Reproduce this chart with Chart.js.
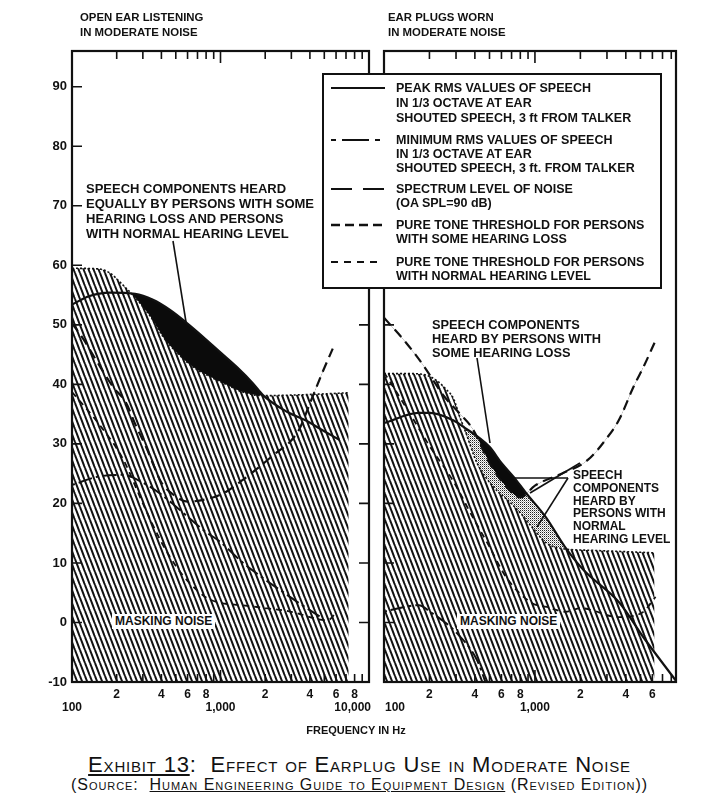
<!DOCTYPE html>
<html>
<head>
<meta charset="utf-8">
<script src="https://cdn.jsdelivr.net/npm/chart.js@4.4.0/dist/chart.umd.min.js"></script>
<style>
  body { margin: 0; background: #fff; }
  #page { position: relative; width: 719px; height: 800px; overflow: hidden; background: #fff; }
  canvas { position: absolute; top: 0; z-index: 0; }
  .t { position: absolute; white-space: nowrap; font: bold 12px/14px "Liberation Sans", Arial, sans-serif; color: #111; z-index: 3; }
  .lg { font-size: 12.5px; }
  .mask { background: #fff; padding: 0 3px; line-height: 15px; }
  #legendBox { position: absolute; left: 322px; top: 73px; width: 336px; height: 212px; border: 2px solid #111; background: #fff; z-index: 1; }
  #overlay { position: absolute; left: 0; top: 0; z-index: 2; }
  .cap { position: absolute; left: 0; width: 719px; text-align: center; font-family: "Liberation Sans", Arial, sans-serif; font-variant: small-caps; color: #111; letter-spacing: 0.8px; }
</style>
</head>
<body>
<div id="page">
  <canvas id="openEar" width="380" height="720" style="left:0"></canvas>
  <canvas id="plugged" width="349" height="720" style="left:370px"></canvas>

  <div id="legendBox"></div>
  <svg id="overlay" width="719" height="800">
    <g stroke="#111" fill="none">
      <line x1="331" y1="88" x2="385" y2="88" stroke-width="2"/>
      <line x1="331" y1="140" x2="381" y2="140" stroke-width="2" stroke-dasharray="5 6 27 6 5 100"/>
      <line x1="331" y1="189" x2="385" y2="189" stroke-width="2" stroke-dasharray="21 11"/>
      <line x1="331" y1="225" x2="383" y2="225" stroke-width="2.6" stroke-dasharray="9 5"/>
      <line x1="331" y1="262" x2="383" y2="262" stroke-width="2" stroke-dasharray="7 6"/>
      <line x1="173" y1="241" x2="186" y2="322" stroke-width="1.6"/>
      <line x1="477" y1="358" x2="490" y2="443" stroke-width="1.6"/>
      <line x1="568" y1="478" x2="513" y2="478" stroke-width="1.6"/>
      <line x1="580" y1="463" x2="530" y2="493" stroke-width="1.6"/>
      <line x1="568" y1="478" x2="537" y2="527" stroke-width="1.6"/>
    </g>
  </svg>

  <div class="t" style="left:80px;top:10px;line-height:15px;font-size:11.4px">OPEN EAR LISTENING<br>IN MODERATE NOISE</div>
  <div class="t" style="left:388px;top:10px;line-height:15px;font-size:11.4px">EAR PLUGS WORN<br>IN MODERATE NOISE</div>

  <div class="t lg" style="left:396px;top:81px">PEAK RMS VALUES OF SPEECH</div>
  <div class="t lg" style="left:396px;top:96px">IN 1/3 OCTAVE AT EAR</div>
  <div class="t lg" style="left:396px;top:111px">SHOUTED SPEECH, 3 ft FROM TALKER</div>
  <div class="t lg" style="left:396px;top:133px">MINIMUM RMS VALUES OF SPEECH</div>
  <div class="t lg" style="left:396px;top:147px">IN 1/3 OCTAVE AT EAR</div>
  <div class="t lg" style="left:396px;top:161px">SHOUTED SPEECH, 3 ft. FROM TALKER</div>
  <div class="t lg" style="left:396px;top:182px">SPECTRUM LEVEL OF NOISE</div>
  <div class="t lg" style="left:396px;top:196px">(OA SPL=90 dB)</div>
  <div class="t lg" style="left:396px;top:218px">PURE TONE THRESHOLD FOR PERSONS</div>
  <div class="t lg" style="left:396px;top:232px">WITH SOME HEARING LOSS</div>
  <div class="t lg" style="left:396px;top:255px">PURE TONE THRESHOLD FOR PERSONS</div>
  <div class="t lg" style="left:396px;top:269px">WITH NORMAL HEARING LEVEL</div>

  <div class="t" style="left:86px;top:181px;line-height:15px;font-size:13px">SPEECH COMPONENTS HEARD<br>EQUALLY BY PERSONS WITH SOME<br>HEARING LOSS AND PERSONS<br>WITH NORMAL HEARING LEVEL</div>
  <div class="t" style="left:432px;top:318px;font-size:12.8px">SPEECH COMPONENTS<br>HEARD BY PERSONS WITH<br>SOME HEARING LOSS</div>
  <div class="t" style="left:573px;top:469px;line-height:12.8px;font-size:12px">SPEECH<br>COMPONENTS<br>HEARD BY<br>PERSONS WITH<br>NORMAL<br>HEARING LEVEL</div>

  <div class="t mask" style="left:112px;top:614px">MASKING NOISE</div>
  <div class="t mask" style="left:457px;top:614px">MASKING NOISE</div>

  <div class="t" style="left:256px;width:200px;text-align:center;top:723px;font-size:11px">FREQUENCY IN Hz</div>
  <div class="cap" style="top:752px;font-size:22px"><u>Exhibit 13</u>:&nbsp; Effect of Earplug Use in Moderate Noise</div>
  <div class="cap" style="top:776px;font-size:16px;letter-spacing:0.95px">(Source:&nbsp; <u>Human Engineering Guide to Equipment Design</u> (Revised Edition))</div>
</div>

<script>
// axis ticks
const yTickValues = [-10, 0, 10, 20, 30, 40, 50, 60, 70, 80, 90];
const openTickHz = [100, 200, 300, 400, 500, 600, 700, 800, 900, 1000, 2000, 3000, 4000, 5000, 6000, 7000, 8000, 9000, 10000];
const plugTickHz = [100, 200, 300, 400, 500, 600, 700, 800, 900, 1000, 2000, 3000, 4000, 5000, 6000, 7000, 8000];
const digitHz = [200, 400, 600, 800, 2000, 4000, 6000, 8000];
const digitText = ['2', '4', '6', '8', '2', '4', '6', '8'];
const plugDigitHz = [200, 400, 600, 800, 2000, 4000, 6000];
const openDecadeHz = [100, 1000, 10000];
const openDecadeText = ['100', '1,000', '10,000'];
const plugDecadeHz = [100, 1000];
const plugDecadeText = ['100', '1,000'];

// open ear listening
const openPeakHz = [100, 130, 180, 266, 351, 457, 594, 762, 985, 1290, 1650, 1930, 2800, 3700, 5100, 6300];
const openPeakDb = [53.4, 54.8, 55.4, 55.2, 54.2, 52.5, 50.3, 48.0, 45.5, 42.9, 40.2, 38.2, 35.4, 34.0, 32.0, 30.7];
const openMinHz = [100, 150, 220, 300, 400, 500, 770, 1000, 1420, 2000, 2500, 3500, 4800];
const openMinDb = [23.1, 24.5, 24.8, 23.5, 21.5, 19.5, 15.5, 13.5, 10.0, 7.2, 5.5, 3.0, 0.8];
const openLossHz = [100, 120, 150, 190, 230, 270, 315, 360, 400, 480, 600, 860, 1100, 1420, 1800, 2370, 2900, 3400, 4000, 4800, 5700];
const openLossDb = [50.3, 47.5, 43.5, 39.5, 37.0, 33.0, 29.5, 26.0, 23.5, 21.5, 20.3, 20.9, 22.0, 24.0, 26.0, 28.5, 30.2, 32.5, 36.8, 41.7, 46.0];
const openNormalHz = [100, 150, 220, 300, 400, 500, 600, 800, 1000, 1400, 2000, 3000, 4000, 5000, 5500, 6000];
const openNormalDb = [38.7, 33.5, 27.5, 20.0, 13.5, 9.5, 7.0, 4.2, 3.3, 2.9, 2.4, 1.8, 0.9, 0.4, 0.6, 1.8];
const openNoiseHz = [100, 150, 180, 220, 257, 301, 351, 410, 510, 654, 848, 1110, 1415, 1930, 3000, 5000, 7300];
const openNoiseDb = [59.5, 59.4, 58.7, 56.7, 55.0, 53.0, 50.8, 48.0, 45.3, 42.9, 41.3, 39.9, 38.7, 38.1, 38.2, 38.4, 38.6];

// ear plugs worn
const plugPeakHz = [100, 170, 202, 285, 334, 500, 600, 720, 870, 1180, 1580, 2100, 3630, 5200, 8600];
const plugPeakDb = [33.5, 35.2, 35.2, 34.0, 32.9, 29.5, 26.8, 24.5, 21.8, 17.7, 12.7, 8.8, 3.3, -2.4, -9.8];
const plugMinHz = [100, 137, 170, 202, 304, 413, 470];
const plugMinDb = [1.8, 2.6, 2.9, 1.8, -1.8, -6.3, -10.0];
const plugLossHz = [100, 140, 181, 250, 320, 387, 500, 645, 800, 1000, 1500, 2240, 3000, 3600, 4500, 5300, 6200];
const plugLossDb = [51.2, 47.0, 43.3, 38.0, 35.0, 32.5, 26.8, 22.8, 21.0, 23.0, 25.0, 27.3, 31.0, 34.0, 39.6, 43.2, 47.0];
const plugNormalHz = [100, 115, 154, 202, 285, 387, 500, 645, 950, 1200, 1600, 2000, 3600, 5100, 6300];
const plugNormalDb = [42.0, 39.6, 34.4, 29.5, 23.9, 17.7, 12.7, 7.6, 3.3, 2.6, 1.8, 2.4, 0.9, 1.6, 4.3];
const plugNoiseHz = [100, 150, 202, 260, 290, 318, 344, 413, 530, 690, 800, 950, 1180, 1450, 2500, 4000, 6200];
const plugNoiseDb = [41.8, 41.8, 41.3, 39.1, 37.5, 34.5, 32.3, 26.8, 22.8, 20.1, 18.4, 16.1, 13.4, 12.5, 12.1, 11.9, 11.7];

Chart.defaults.font.family = '"Liberation Sans", Arial, sans-serif';
Chart.defaults.color = '#111';

const pts = (hz, db) => hz.map((f, i) => ({ x: f, y: db[i] }));
const upTo = (list, maxHz) => list.filter(p => p.x <= maxHz);

function hatchPattern() {
    const c = document.createElement('canvas');
    c.width = 5; c.height = 13;
    const g = c.getContext('2d');
    g.fillStyle = '#fff';
    g.fillRect(0, 0, 5, 13);
    g.strokeStyle = '#111';
    g.lineWidth = 2;
    for (const dx of [-5, 0, 5]) {
        g.beginPath();
        g.moveTo(dx, 0);
        g.lineTo(dx + 5, 13);
        g.stroke();
    }
    return g.createPattern(c, 'repeat');
}

function dotPattern() {
    const c = document.createElement('canvas');
    c.width = 2; c.height = 2;
    const g = c.getContext('2d');
    g.fillStyle = '#fff';
    g.fillRect(0, 0, 2, 2);
    g.fillStyle = '#222';
    g.fillRect(0, 0, 1, 1);
    g.fillStyle = '#aaa';
    g.fillRect(1, 1, 1, 1);
    return g.createPattern(c, 'repeat');
}

// frame, inward ticks and decade labels
const framePlugin = {
    id: 'frame',
    afterDraw(chart, args, o) {
        const { ctx, chartArea: a } = chart;
        const x = chart.scales.x, y = chart.scales.y;
        ctx.save();
        ctx.strokeStyle = '#111';
        ctx.lineWidth = 1.6;
        ctx.beginPath();
        o.xTicks.forEach(v => {
            const px = x.getPixelForValue(v);
            const len = v === 1000 ? 12 : 8;
            ctx.moveTo(px, a.top); ctx.lineTo(px, a.top + len);
            ctx.moveTo(px, a.bottom); ctx.lineTo(px, a.bottom - len);
        });
        yTickValues.forEach(v => {
            const py = y.getPixelForValue(v);
            if (o.leftTicks) { ctx.moveTo(a.left, py); ctx.lineTo(a.left + 10, py); }
            if (o.rightTicks) { ctx.moveTo(a.right - 10, py); ctx.lineTo(a.right, py); }
        });
        ctx.stroke();
        ctx.lineWidth = 2.2;
        ctx.strokeRect(a.left, a.top, a.right - a.left, a.bottom - a.top);
        ctx.fillStyle = '#111';
        ctx.font = 'bold 12px "Liberation Sans", Arial, sans-serif';
        ctx.textBaseline = 'middle';
        o.decades.forEach((v, i) => {
            const al = o.decadeAlign[i];
            const px = x.getPixelForValue(v) + (al === 'right' ? 2 : al === 'left' ? 1 : 0);
            ctx.textAlign = al;
            ctx.fillText(o.decadeText[i], px, a.bottom + 26);
        });
        ctx.restore();
    }
};

function makePanel(id, s) {
    const peak = pts(s.peakHz, s.peakDb);
    const noise = pts(s.noiseHz, s.noiseDb);
    const loss = pts(s.lossHz, s.lossDb);
    const noiseEnd = s.noiseHz[s.noiseHz.length - 1];
    const lossEnd = s.lossHz[s.lossHz.length - 1];
    const clear = 'rgba(0,0,0,0)';
    return new Chart(document.getElementById(id), {
        type: 'line',
        data: {
            datasets: [
                { data: peak, borderWidth: 2.2, order: 1 },
                { data: pts(s.minHz, s.minDb), borderWidth: 2, borderDash: [3, 4, 14, 4], order: 2 },
                { data: loss, borderWidth: 2.2, borderDash: [10, 6], order: 3 },
                { data: pts(s.normalHz, s.normalDb), borderWidth: 1.8, borderDash: [6, 5], order: 4 },
                { data: noise, borderWidth: 1.6, borderDash: [2, 2], fill: 'start', backgroundColor: hatchPattern(), order: 10 },
                { data: upTo(peak, noiseEnd), borderColor: clear, borderWidth: 1, fill: { target: 4, above: dotPattern(), below: clear }, order: 30 },
                { data: upTo(peak, lossEnd), borderColor: clear, borderWidth: 1, fill: { target: 2, above: '#0b0b0b', below: clear }, order: 20 }
            ]
        },
        options: {
            responsive: false,
            animation: false,
            events: [],
            layout: { padding: s.padding },
            elements: {
                point: { radius: 0 },
                line: { cubicInterpolationMode: 'monotone', borderColor: '#111', fill: false }
            },
            plugins: {
                legend: { display: false },
                tooltip: { enabled: false },
                frame: {
                    xTicks: s.tickHz, leftTicks: true, rightTicks: s.rightTicks,
                    decades: s.decadeHz, decadeText: s.decadeText, decadeAlign: s.decadeAlign
                }
            },
            scales: {
                x: {
                    type: 'logarithmic', min: 100, max: s.maxHz,
                    afterBuildTicks: sc => { sc.ticks = s.tickHz.map(v => ({ value: v })); },
                    afterFit: sc => { sc.height = 38; },
                    grid: { display: false, drawTicks: false },
                    border: { display: false },
                    ticks: {
                        autoSkip: false, maxRotation: 0, padding: 5,
                        font: { size: 12, weight: 'bold' },
                        callback: v => {
                            const i = s.digitHz.indexOf(v);
                            return i >= 0 ? digitText[i] : '';
                        }
                    }
                },
                y: {
                    display: s.showY, min: -10, max: 96,
                    afterBuildTicks: sc => { sc.ticks = yTickValues.map(v => ({ value: v })); },
                    afterFit: sc => { sc.width = s.showY ? 72 : 0; },
                    grid: { display: false, drawTicks: false },
                    border: { display: false },
                    ticks: { padding: 5, font: { size: 13, weight: 'bold' } }
                }
            }
        },
        plugins: [framePlugin]
    });
}

makePanel('openEar', {
    peakHz: openPeakHz, peakDb: openPeakDb,
    minHz: openMinHz, minDb: openMinDb,
    lossHz: openLossHz, lossDb: openLossDb,
    normalHz: openNormalHz, normalDb: openNormalDb,
    noiseHz: openNoiseHz, noiseDb: openNoiseDb,
    maxHz: 10000, tickHz: openTickHz, digitHz: digitHz,
    decadeHz: openDecadeHz, decadeText: openDecadeText, decadeAlign: ['center', 'center', 'right'],
    showY: true, rightTicks: true,
    padding: { top: 51, right: 11, left: 0, bottom: 0 }
});

makePanel('plugged', {
    peakHz: plugPeakHz, peakDb: plugPeakDb,
    minHz: plugMinHz, minDb: plugMinDb,
    lossHz: plugLossHz, lossDb: plugLossDb,
    normalHz: plugNormalHz, normalDb: plugNormalDb,
    noiseHz: plugNoiseHz, noiseDb: plugNoiseDb,
    maxHz: 8600, tickHz: plugTickHz, digitHz: plugDigitHz,
    decadeHz: plugDecadeHz, decadeText: plugDecadeText, decadeAlign: ['left', 'center'],
    showY: false, rightTicks: false,
    padding: { top: 51, right: 43, left: 14, bottom: 0 }
});
</script>
</body>
</html>
